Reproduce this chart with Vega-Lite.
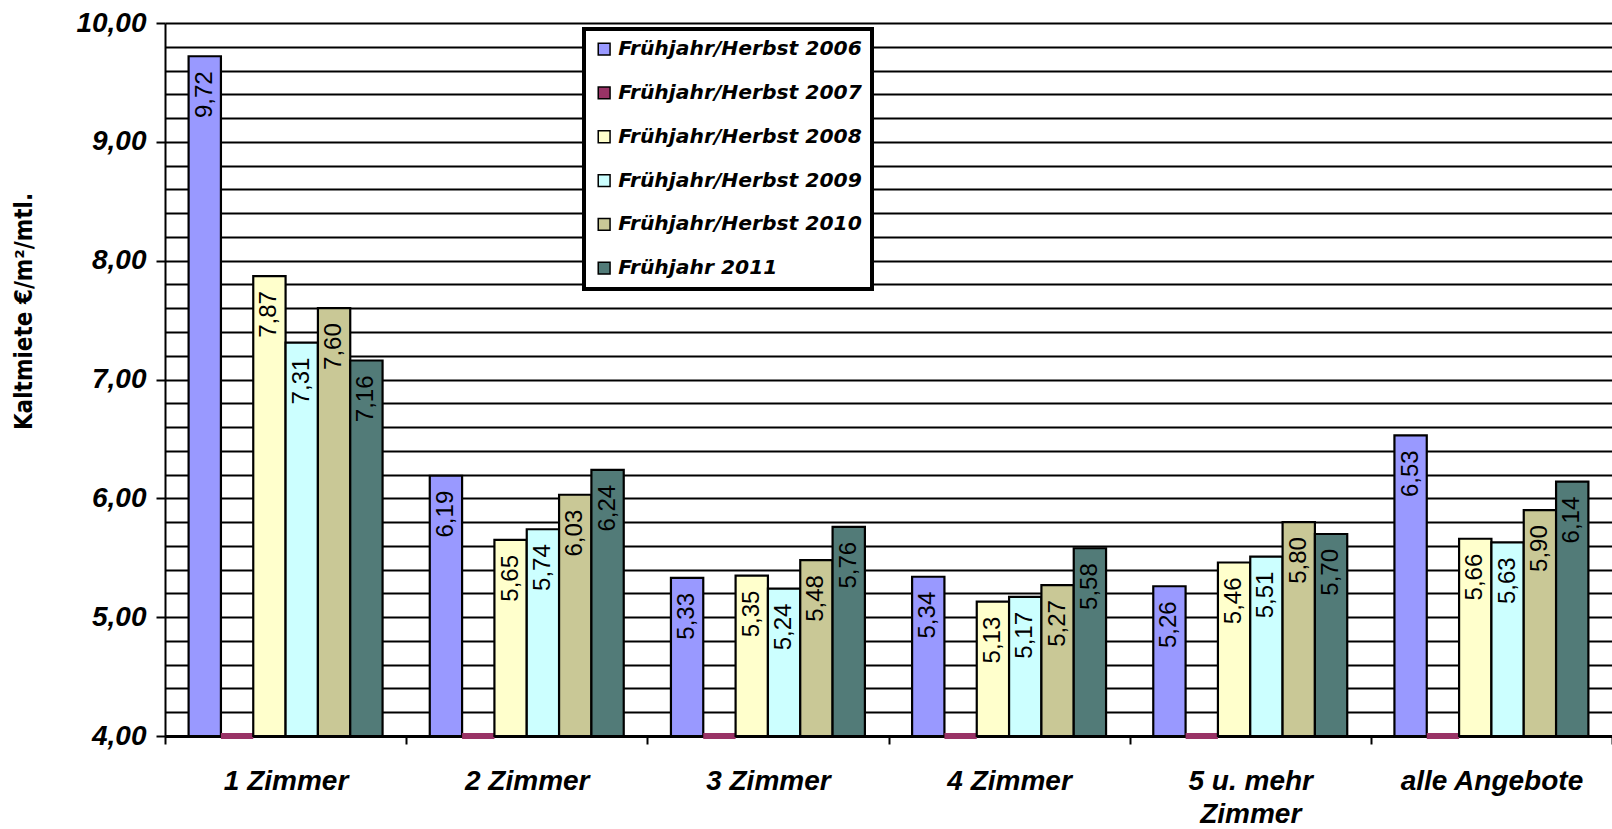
{
  "$schema": "https://vega.github.io/schema/vega-lite/v6.json",
  "autosize": {"type": "none"},
  "width": 1447,
  "height": 713,
  "padding": {"left": 165, "top": 23, "right": 0, "bottom": 93},
  "background": "white",
  "config": {
    "locale": {"number": {"decimal": ",", "thousands": ".", "grouping": [3], "currency": ["", " €"]}},
    "view": {"stroke": null},
    "legend": {"strokeWidth": 4}
  },
  "data": {"values": [
    {"cat": "1 Zimmer", "series": "Frühjahr/Herbst 2006", "value": 9.72},
    {"cat": "1 Zimmer", "series": "Frühjahr/Herbst 2007", "value": 0},
    {"cat": "1 Zimmer", "series": "Frühjahr/Herbst 2008", "value": 7.87},
    {"cat": "1 Zimmer", "series": "Frühjahr/Herbst 2009", "value": 7.31},
    {"cat": "1 Zimmer", "series": "Frühjahr/Herbst 2010", "value": 7.60},
    {"cat": "1 Zimmer", "series": "Frühjahr 2011", "value": 7.16},
    {"cat": "2 Zimmer", "series": "Frühjahr/Herbst 2006", "value": 6.19},
    {"cat": "2 Zimmer", "series": "Frühjahr/Herbst 2007", "value": 0},
    {"cat": "2 Zimmer", "series": "Frühjahr/Herbst 2008", "value": 5.65},
    {"cat": "2 Zimmer", "series": "Frühjahr/Herbst 2009", "value": 5.74},
    {"cat": "2 Zimmer", "series": "Frühjahr/Herbst 2010", "value": 6.03},
    {"cat": "2 Zimmer", "series": "Frühjahr 2011", "value": 6.24},
    {"cat": "3 Zimmer", "series": "Frühjahr/Herbst 2006", "value": 5.33},
    {"cat": "3 Zimmer", "series": "Frühjahr/Herbst 2007", "value": 0},
    {"cat": "3 Zimmer", "series": "Frühjahr/Herbst 2008", "value": 5.35},
    {"cat": "3 Zimmer", "series": "Frühjahr/Herbst 2009", "value": 5.24},
    {"cat": "3 Zimmer", "series": "Frühjahr/Herbst 2010", "value": 5.48},
    {"cat": "3 Zimmer", "series": "Frühjahr 2011", "value": 5.76},
    {"cat": "4 Zimmer", "series": "Frühjahr/Herbst 2006", "value": 5.34},
    {"cat": "4 Zimmer", "series": "Frühjahr/Herbst 2007", "value": 0},
    {"cat": "4 Zimmer", "series": "Frühjahr/Herbst 2008", "value": 5.13},
    {"cat": "4 Zimmer", "series": "Frühjahr/Herbst 2009", "value": 5.17},
    {"cat": "4 Zimmer", "series": "Frühjahr/Herbst 2010", "value": 5.27},
    {"cat": "4 Zimmer", "series": "Frühjahr 2011", "value": 5.58},
    {"cat": "5 u. mehr Zimmer", "series": "Frühjahr/Herbst 2006", "value": 5.26},
    {"cat": "5 u. mehr Zimmer", "series": "Frühjahr/Herbst 2007", "value": 0},
    {"cat": "5 u. mehr Zimmer", "series": "Frühjahr/Herbst 2008", "value": 5.46},
    {"cat": "5 u. mehr Zimmer", "series": "Frühjahr/Herbst 2009", "value": 5.51},
    {"cat": "5 u. mehr Zimmer", "series": "Frühjahr/Herbst 2010", "value": 5.80},
    {"cat": "5 u. mehr Zimmer", "series": "Frühjahr 2011", "value": 5.70},
    {"cat": "alle Angebote", "series": "Frühjahr/Herbst 2006", "value": 6.53},
    {"cat": "alle Angebote", "series": "Frühjahr/Herbst 2007", "value": 0},
    {"cat": "alle Angebote", "series": "Frühjahr/Herbst 2008", "value": 5.66},
    {"cat": "alle Angebote", "series": "Frühjahr/Herbst 2009", "value": 5.63},
    {"cat": "alle Angebote", "series": "Frühjahr/Herbst 2010", "value": 5.90},
    {"cat": "alle Angebote", "series": "Frühjahr 2011", "value": 6.14}
  ]},
  "encoding": {
    "x": {
      "field": "cat", "type": "nominal",
      "sort": ["1 Zimmer", "2 Zimmer", "3 Zimmer", "4 Zimmer", "5 u. mehr Zimmer", "alle Angebote"],
      "scale": {"paddingInner": 0, "paddingOuter": 0},
      "axis": {
        "title": null, "labelAngle": 0, "tickBand": "extent",
        "domainColor": "black", "domainWidth": 3,
        "tickColor": "black", "tickWidth": 2, "tickSize": 8,
        "labelFont": "Liberation Sans", "labelFontWeight": "bold", "labelFontStyle": "italic",
        "labelFontSize": 28, "labelColor": "black", "labelPadding": 23, "labelBaseline": "top",
        "labelLineHeight": 33, "labelLimit": 400, "labelOverlap": false,
        "labelExpr": "datum.value == '5 u. mehr Zimmer' ? ['5 u. mehr', 'Zimmer'] : datum.label"
      }
    },
    "xOffset": {
      "field": "series", "type": "nominal",
      "sort": ["Frühjahr/Herbst 2006", "Frühjahr/Herbst 2007", "Frühjahr/Herbst 2008", "Frühjahr/Herbst 2009", "Frühjahr/Herbst 2010", "Frühjahr 2011"],
      "scale": {"paddingInner": 0, "paddingOuter": 0.73}
    },
    "y": {
      "field": "value", "type": "quantitative",
      "scale": {"domain": [4, 10], "zero": false, "nice": false, "clamp": true},
      "axis": {
        "values": [4, 4.2, 4.4, 4.6, 4.8, 5, 5.2, 5.4, 5.6, 5.8, 6, 6.2, 6.4, 6.6, 6.8, 7, 7.2, 7.4, 7.6, 7.8, 8, 8.2, 8.4, 8.6, 8.8, 9, 9.2, 9.4, 9.6, 9.8, 10],
        "format": ".2f",
        "labelExpr": "abs(datum.value - round(datum.value)) < 0.001 ? datum.label : ''",
        "grid": true, "gridColor": "black", "gridWidth": 2, "gridOpacity": 1,
        "domainColor": "black", "domainWidth": 2,
        "tickWidth": 2,
        "tickSize": {"condition": {"test": "abs(datum.value - round(datum.value)) < 0.001", "value": 9}, "value": 0},
        "tickColor": "black",
        "labelFont": "Liberation Sans", "labelFontWeight": "bold", "labelFontStyle": "italic",
        "labelFontSize": 28, "labelColor": "black", "labelPadding": 10, "labelOverlap": false,
        "title": "Kaltmiete €/m²/mtl.",
        "titleFont": "DejaVu Sans Condensed", "titleFontWeight": "bold", "titleFontSize": 24,
        "titleColor": "black", "titleX": -141, "titleY": 288, "titleAnchor": "middle", "titleAngle": 270, "titleBaseline": "middle"
      }
    }
  },
  "layer": [
    {
      "mark": {"type": "bar"},
      "encoding": {
        "color": {
          "field": "series", "type": "nominal",
          "sort": ["Frühjahr/Herbst 2006", "Frühjahr/Herbst 2007", "Frühjahr/Herbst 2008", "Frühjahr/Herbst 2009", "Frühjahr/Herbst 2010", "Frühjahr 2011"],
          "scale": {
            "domain": ["Frühjahr/Herbst 2006", "Frühjahr/Herbst 2007", "Frühjahr/Herbst 2008", "Frühjahr/Herbst 2009", "Frühjahr/Herbst 2010", "Frühjahr 2011"],
            "range": ["#9999FF", "#993366", "#FFFFCC", "#CCFFFF", "#C9C896", "#527B78"]
          },
          "legend": {
            "title": null, "orient": "none", "legendX": 419, "legendY": 6,
            "fillColor": "white", "strokeColor": "black", "padding": 10,
            "symbolType": "square", "symbolSize": 140, "symbolStrokeColor": "black", "symbolStrokeWidth": 1.5, "symbolOpacity": 1,
            "labelFont": "DejaVu Sans", "labelFontWeight": "bold", "labelFontStyle": "italic",
            "labelFontSize": 20.3, "labelColor": "black", "labelOffset": 4, "rowPadding": 22.8, "labelLimit": 400
          }
        },
        "stroke": {"condition": {"test": "datum.value < 1", "value": "#993366"}, "value": "black"},
        "strokeWidth": {"condition": {"test": "datum.value < 1", "value": 6}, "value": 2.2},
        "opacity": {"value": 1}
      }
    },
    {
      "transform": [{"filter": "datum.value > 1"}],
      "mark": {"type": "text", "angle": 270, "align": "right", "baseline": "middle", "dx": -15,
               "font": "Liberation Sans", "fontWeight": "normal", "fontSize": 24, "color": "black"},
      "encoding": {
        "text": {"field": "value", "type": "quantitative", "format": ".2f"}
      }
    }
  ]
}
